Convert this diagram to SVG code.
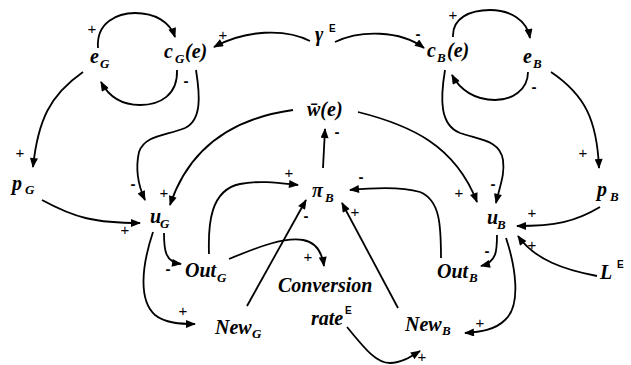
<svg xmlns="http://www.w3.org/2000/svg" width="631" height="365" viewBox="0 0 631 365">
<style>
.v{font-family:"Liberation Serif",serif;font-style:italic;font-weight:bold;font-size:20px;fill:#000}
.s{font-size:13px}
.sup{font-family:"Liberation Sans",sans-serif;font-style:normal;font-weight:bold;font-size:10px}
.sg{font-family:"Liberation Sans",sans-serif;font-size:15px;text-anchor:middle;fill:#000}
.m{font-weight:bold}
#conn path{fill:none;stroke:#000;stroke-width:1.8;marker-end:url(#a)}
</style>
<defs>
<marker id="a" viewBox="0 0 10 8" refX="9" refY="4" markerWidth="11" markerHeight="8" markerUnits="userSpaceOnUse" orient="auto"><path d="M0,0 L10,4 L0,8 z" fill="#000"/></marker>
</defs>
<rect width="631" height="365" fill="#fff"/>
<g id="conn">
<path d="M98,48 C96,22 118,13 135,13 C155,13 170,22 175,37"/>
<path d="M177,70 C178,95 160,105 140,105 C120,105 108,95 101,82"/>
<path d="M310,41 C285,28 245,30 214,47"/>
<path d="M335,42 C360,30 400,30 424,48"/>
<path d="M453,37 C452,18 470,10 490,10 C510,10 527,20 530,38"/>
<path d="M528,72 C528,90 512,100 495,100 C475,100 460,90 452,75"/>
<path d="M83,72 C50,95 38,120 33,167"/>
<path d="M551,72 C585,95 597,120 599,168"/>
<path d="M196,70 C200,95 202,120 185,128 C165,136 145,135 139,152 C135,170 138,185 145,200"/>
<path d="M293,110 C235,118 190,145 170,205"/>
<path d="M445,70 C440,100 440,125 460,133 C480,140 500,140 503,160 C505,175 500,185 496,203"/>
<path d="M358,112 C410,125 455,145 477,202"/>
<path d="M42,200 C75,218 95,223 140,223"/>
<path d="M600,207 C575,222 555,226 517,226"/>
<path d="M597,276 C565,270 535,260 518,236"/>
<path d="M164,233 C164,250 165,262 181,264"/>
<path d="M153,232 C142,265 138,300 155,315 C165,323 180,324 195,324"/>
<path d="M497,235 C497,250 497,262 481,266"/>
<path d="M506,238 C515,265 522,305 505,320 C495,330 480,332 465,333"/>
<path d="M209,254 C208,225 210,190 240,184 C260,180 280,183 298,185"/>
<path d="M247,306 L306,200"/>
<path d="M229,259 C260,246 285,237 303,240 C315,242 322,252 324,266"/>
<path d="M398,308 L342,203"/>
<path d="M441,258 C441,225 440,200 420,192 C400,186 370,188 350,190"/>
<path d="M323,168 L325,129"/>
<path d="M347,327 C362,345 375,363 390,363 C402,363 412,356 420,351"/>
</g>
<g id="signs">
<text class="sg" x="92" y="34">+</text>
<text class="sg m" x="186" y="86">-</text>
<text class="sg" x="223" y="40">+</text>
<text class="sg m" x="418" y="39">-</text>
<text class="sg" x="453" y="20">+</text>
<text class="sg m" x="534" y="92">-</text>
<text class="sg" x="20" y="158">+</text>
<text class="sg" x="583" y="158">+</text>
<text class="sg m" x="133" y="189">-</text>
<text class="sg" x="164" y="198">+</text>
<text class="sg" x="459" y="198">+</text>
<text class="sg m" x="493" y="189">-</text>
<text class="sg" x="125" y="235">+</text>
<text class="sg" x="532" y="218">+</text>
<text class="sg" x="532" y="250">+</text>
<text class="sg m" x="168" y="274">-</text>
<text class="sg" x="183" y="316">+</text>
<text class="sg m" x="487" y="256">-</text>
<text class="sg" x="480" y="328">+</text>
<text class="sg" x="289" y="178">+</text>
<text class="sg m" x="306" y="221">-</text>
<text class="sg" x="308" y="262">+</text>
<text class="sg" x="355" y="217">+</text>
<text class="sg m" x="361" y="182">-</text>
<text class="sg m" x="337" y="137">-</text>
<text class="sg" x="422" y="362">+</text>
</g>
<g id="eG"><text class="v" x="90" y="63">e<tspan class="s" x="100" y="68">G</tspan></text></g>
<g id="cG"><text class="v" x="164" y="58">c<tspan class="s" x="175" y="63">G</tspan><tspan x="185" y="58">(e)</tspan></text></g>
<g id="gamma"><text class="v" x="315" y="41">γ<tspan class="sup" x="329" y="32">E</tspan></text></g>
<g id="cB"><text class="v" x="427" y="57">c<tspan class="s" x="437" y="62">B</tspan><tspan x="447" y="57">(e)</tspan></text></g>
<g id="eB"><text class="v" x="523" y="63">e<tspan class="s" x="533" y="68">B</tspan></text></g>
<g id="wbar"><text class="v" x="307" y="116">w̄(e)</text></g>
<g id="piB"><text class="v" x="312" y="197">π<tspan class="s" x="325" y="202">B</tspan></text></g>
<g id="pG"><text class="v" x="12" y="190">p<tspan class="s" x="25" y="194">G</tspan></text></g>
<g id="uG"><text class="v" x="150" y="223">u<tspan class="s" x="160" y="228">G</tspan></text></g>
<g id="OutG"><text class="v" x="185" y="277">Out<tspan class="s" x="217" y="282">G</tspan></text></g>
<g id="NewG"><text class="v" x="215" y="334">New<tspan class="s" x="252" y="338">G</tspan></text></g>
<g id="conv"><text class="v" x="278" y="292">Conversion</text><text class="v" x="311" y="325">rate<tspan class="sup" x="345" y="314">E</tspan></text></g>
<g id="NewB"><text class="v" x="405" y="331">New<tspan class="s" x="442" y="335">B</tspan></text></g>
<g id="OutB"><text class="v" x="437" y="278">Out<tspan class="s" x="469" y="282">B</tspan></text></g>
<g id="uB"><text class="v" x="487" y="224">u<tspan class="s" x="497" y="229">B</tspan></text></g>
<g id="pB"><text class="v" x="597" y="196">p<tspan class="s" x="610" y="201">B</tspan></text></g>
<g id="LE"><text class="v" x="600" y="279">L<tspan class="sup" x="617" y="268">E</tspan></text></g>
</svg>
